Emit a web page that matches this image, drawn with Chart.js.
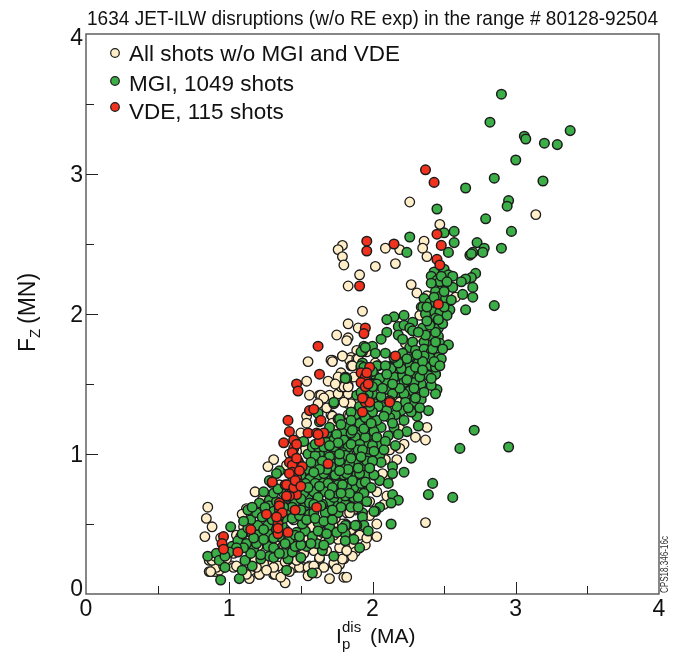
<!DOCTYPE html>
<html>
<head>
<meta charset="utf-8">
<title>JET-ILW disruptions</title>
<script src="https://cdn.jsdelivr.net/npm/chart.js@4/dist/chart.umd.min.js"></script>
<style>
  html, body { margin: 0; padding: 0; background: #fff; }
  canvas { display: block; }
</style>
</head>
<body>
<canvas id="chart" width="688" height="652"></canvas>
<script>
// Values: [Ip_dis (MA), Fz (MN)]
const allShots = [
  [2.26,2.80],[3.14,2.71],[2.47,2.64],[2.36,2.52],[2.35,2.47],[2.19,2.46],[2.38,2.41],[2.09,2.47],[1.79,2.49],[1.76,2.46],
  [1.79,2.41],[1.80,2.35],[2.02,2.34],[2.16,2.36],[1.91,2.28],[1.83,2.20],[2.27,2.21],[2.31,2.15],[2.38,2.13],[2.58,2.12],
  [2.34,2.05],[1.93,2.02],[2.33,1.99],[1.83,1.93],[1.90,1.90],[1.75,1.85],[1.83,1.83],[2.32,1.84],[1.89,1.74],[1.96,1.73],
  [1.79,1.70],[1.72,1.67],[1.85,1.69],[1.84,1.67],[1.89,1.68],[1.85,1.63],[2.02,1.65],[2.23,1.79],[1.71,1.67],[1.55,1.66],
  [1.79,1.70],[1.86,1.63],[1.54,1.52],[1.63,1.42],[1.70,1.42],[1.76,1.43],[1.83,1.43],[1.78,1.48],[1.83,1.49],[1.84,1.36],
  [1.71,1.28],[1.83,1.28],[1.54,1.27],[1.73,1.22],[1.75,1.18],[1.54,1.22],[1.53,1.03],[1.31,0.96],[1.27,0.91],[1.18,0.73],
  [1.90,1.68],[1.82,1.81],[1.91,1.32],[1.92,0.69],[1.90,1.38],[0.85,0.62],[0.84,0.54],[0.88,0.48],[0.83,0.41],[0.94,0.40],
  [0.86,0.24],[0.86,0.16],[0.90,0.16],[0.93,0.17],[0.91,0.19],[1.02,0.20],[1.14,0.11],[1.21,0.14],[1.31,0.14],[1.39,0.08],
  [1.46,0.19],[1.52,0.19],[1.56,0.20],[1.63,0.25],[1.66,0.19],[1.70,0.11],[1.80,0.12],[1.82,0.12],[1.80,0.25],[1.73,0.21],
  [1.77,0.21],[1.77,0.33],[1.87,0.35],[1.88,0.30],[1.75,0.44],[1.71,0.44],[1.81,0.50],[1.75,0.51],[1.82,0.58],[1.88,0.60],
  [1.98,0.66],[2.03,0.50],[1.12,0.60],[1.11,0.55],[1.10,0.48],[1.05,0.42],[1.06,0.35],[1.16,0.29],[1.24,0.19],[1.27,0.21],
  [1.34,0.20],[1.42,0.25],[1.49,0.27],[1.59,0.31],[1.54,0.39],[1.45,0.32],[1.35,0.30],[2.37,1.10],[2.37,0.51],[2.22,1.07],
  [2.19,1.04],[2.11,0.84],[1.89,0.61],[1.84,0.58],[1.81,0.50],[1.79,0.50],[1.74,0.54],[1.83,1.36],[1.85,1.36],[1.84,1.27],
  [1.72,1.27],[1.72,1.22],[1.73,1.17],[1.64,1.42],[1.80,1.48],[1.83,1.48],[1.86,1.63],[1.72,1.66],[2.19,1.37],[2.19,1.18],
  [1.12,0.61],[1.16,0.43],[1.18,0.24],[1.03,0.19],[1.21,0.14],[1.32,0.14],[1.31,0.19],[1.45,0.19],[1.49,0.19],[1.55,0.19],
  [1.63,0.26],[1.73,0.22],[1.79,0.25],[1.95,0.35],[1.38,0.35],[1.32,0.38],[1.45,0.53],[1.59,0.20],[1.24,0.22],[1.52,0.29],
  [1.55,0.39],[1.68,0.31],[1.76,0.39],[0.87,0.16],[0.88,0.24],[1.03,0.29],[1.15,0.17],[1.26,0.17],[1.39,0.23],[1.47,0.24],
  [1.05,0.20],[0.96,0.20],[1.08,0.41],[1.67,0.38],[1.73,0.42],[1.66,0.48],[1.49,0.38],[1.45,0.38],[1.62,0.42],[1.58,0.48],
  [1.39,0.46],[1.30,0.30],[1.20,0.34],[1.14,0.38],[1.70,0.60],[1.60,0.66],[1.40,0.68],[1.35,0.78],[1.87,1.55],[1.78,1.58],
  [1.56,1.42],[1.76,1.55],[1.69,1.52],[1.74,1.50],[1.66,1.40],[1.80,1.37],[1.92,1.43],[1.68,1.33],[1.62,1.36],[1.50,1.15],
  [1.47,1.02],[1.40,0.92],[1.30,0.79],[1.23,0.67],[1.42,1.00],[1.09,0.57],[0.98,0.25],[0.90,0.27],[1.12,0.14],[1.19,0.19],
  [1.36,0.12],[1.42,0.16],[1.55,0.13],[1.61,0.15],[1.75,0.18],[1.86,0.27],[1.82,0.31],[1.91,0.42],[1.96,0.40],[2.03,0.41],
  [1.85,0.46],[1.98,0.56],[2.08,0.64],[2.03,0.73],[2.10,0.70],[2.07,0.86],[2.09,0.96],[2.17,0.96],[2.12,1.03],[2.30,1.12],
  [2.38,1.19]
];
const mgiShots = [
  [2.90,3.57],[2.82,3.37],[3.06,3.27],[3.07,3.25],[3.38,3.31],[3.20,3.22],[3.29,3.21],[3.00,3.10],[2.85,2.97],[3.19,2.95],
  [2.65,2.90],[2.95,2.81],[2.94,2.77],[2.45,2.75],[2.79,2.68],[2.97,2.59],[2.57,2.59],[2.57,2.51],[2.50,2.58],[2.26,2.55],
  [2.73,2.51],[2.78,2.47],[2.90,2.47],[2.70,2.44],[2.53,2.44],[2.77,2.44],[2.68,2.42],[2.69,2.43],[2.24,2.44],[2.43,2.30],
  [2.41,2.27],[2.45,2.24],[2.50,2.32],[2.53,2.28],[2.56,2.27],[2.72,2.29],[2.69,2.26],[2.65,2.25],[2.62,2.23],[2.70,2.19],
  [2.63,2.14],[2.70,2.12],[2.65,2.03],[2.85,2.06],[2.56,2.19],[2.49,2.20],[2.44,2.16],[2.48,2.13],[2.51,2.11],[2.36,2.11],
  [2.40,2.08],[2.35,2.05],[2.52,2.05],[2.54,2.03],[2.42,2.02],[2.47,2.01],[2.37,2.00],[2.52,1.99],[2.44,1.97],[2.39,1.94],
  [2.22,1.99],[2.15,1.98],[2.10,1.96],[2.18,1.91],[2.22,1.92],[2.28,1.94],[2.26,1.90],[2.28,1.88],[2.35,1.90],[2.10,1.87],
  [2.18,1.85],[2.06,1.82],[2.21,1.82],[2.26,1.76],[2.46,1.90],[2.49,1.93],[2.46,1.84],[2.41,1.84],[2.47,1.79],[2.53,1.78],
  [2.41,1.78],[2.36,1.80],[2.28,1.80],[2.30,1.74],[2.36,1.75],[2.41,1.73],[2.46,1.69],[2.09,1.72],[2.00,1.77],[1.94,1.77],
  [1.93,1.73],[2.02,1.72],[2.04,1.63],[1.81,1.55],[2.17,1.65],[2.13,1.63],[2.21,1.72],[2.26,1.68],[2.31,1.65],[2.39,1.62],
  [2.44,1.57],[2.38,1.57],[2.30,1.56],[2.21,1.56],[2.16,1.55],[2.06,1.54],[2.00,1.57],[1.93,1.65],[2.71,1.17],[2.61,1.04],
  [2.95,1.05],[2.27,0.97],[2.42,0.79],[2.39,0.71],[2.56,0.69],[2.14,0.91],[2.14,0.86],[2.22,0.87],[2.01,0.85],[2.05,0.81],
  [2.11,0.79],[2.14,0.71],[2.18,0.67],[2.13,0.65],[2.05,0.62],[2.02,0.59],[2.13,0.50],[1.93,0.58],[1.93,0.55],[2.32,1.20],
  [2.24,1.16],[2.16,1.06],[2.39,1.31],[2.31,1.27],[2.45,1.46],[2.44,1.43],[2.41,1.49],[2.44,1.57],[2.34,1.39],[2.28,1.36],
  [2.27,1.31],[2.20,1.31],[2.16,1.28],[2.15,1.19],[2.11,1.13],[2.06,1.19],[2.12,1.26],[2.06,1.34],[2.03,1.34],[2.00,1.43],
  [2.04,1.49],[2.09,1.53],[2.22,1.49],[2.17,1.44],[2.26,1.45],[2.33,1.47],[2.23,1.41],[1.92,1.62],[2.03,1.63],[1.82,1.54],
  [1.73,1.36],[1.91,1.20],[2.05,1.07],[2.05,0.99],[1.96,1.20],[1.92,1.14],[1.97,1.13],[2.01,1.16],[2.13,1.62],[2.17,1.66],
  [2.22,1.66],[2.26,1.63],[2.31,1.63],[2.38,1.62],[2.44,1.62],[2.15,1.55],[2.21,1.56],[2.26,1.56],[2.31,1.56],[2.38,1.57],
  [2.09,1.52],[2.22,1.51],[2.34,1.50],[1.89,1.42],[1.97,1.43],[1.92,1.44],[2.01,1.57],[2.06,1.41],[2.22,1.43],[2.23,1.37],
  [2.01,1.36],[2.04,1.34],[2.10,1.31],[2.27,1.30],[2.03,1.24],[1.97,1.28],[1.83,1.19],[1.76,1.25],[1.96,1.07],[1.90,1.04],
  [2.00,1.06],[1.79,1.16],[1.73,1.11],[1.68,1.07],[1.79,1.06],[1.87,1.10],[1.97,1.01],[1.96,0.97],[1.89,0.97],[1.83,1.00],
  [1.74,1.03],[1.67,1.00],[2.06,0.94],[1.94,0.91],[1.86,0.91],[1.80,0.93],[1.74,0.89],[1.95,0.85],[1.88,0.87],[1.79,0.85],
  [1.70,0.85],[1.92,0.78],[1.84,0.80],[1.76,0.78],[1.70,0.79],[1.89,0.75],[1.82,0.75],[1.86,0.69],[1.76,0.68],[1.68,0.73],
  [1.81,0.64],[1.73,0.64],[1.67,0.60],[1.75,0.58],[1.94,0.49],[1.89,0.49],[1.82,0.49],[1.69,0.48],[1.01,0.48],[0.85,0.27],
  [0.91,0.29],[0.93,0.24],[0.97,0.19],[0.94,0.10],[1.07,0.11],[1.09,0.17],[1.16,0.20],[1.11,0.24],[1.22,0.25],[1.28,0.27],
  [1.40,0.17],[1.41,0.25],[1.38,0.29],[1.44,0.30],[1.50,0.26],[1.58,0.15],[1.65,0.31],[1.73,0.27],[1.70,0.39],[1.61,0.36],
  [1.54,0.34],[1.46,0.34],[1.27,0.34],[1.17,0.32],[1.15,0.29],[1.02,0.34],[1.06,0.38],[1.09,0.43],[1.12,0.36],[1.19,0.36],
  [1.21,0.43],[1.27,0.43],[1.35,0.41],[1.42,0.39],[1.47,0.44],[1.53,0.45],[1.58,0.41],[1.65,0.44],[1.70,0.48],[1.81,0.49],
  [1.81,0.43],[1.87,0.39],[1.91,0.33],[1.81,0.38],[1.97,0.45],[1.88,0.49],[2.01,0.59],[1.76,0.58],[1.69,0.54],[1.62,0.51],
  [1.56,0.57],[1.51,0.50],[1.37,0.49],[1.27,0.49],[1.20,0.49],[1.15,0.53],[1.19,0.58],[1.13,0.60],[1.21,0.65],[1.16,0.62],
  [1.28,0.67],[1.28,0.63],[1.24,0.73],[1.31,0.59],[1.40,0.60],[1.53,0.63],[1.59,0.58],[1.67,0.58],[1.70,0.66],[1.65,0.64],
  [1.55,0.69],[1.59,0.74],[1.65,0.76],[1.73,0.69],[1.81,0.70],[1.87,0.76],[1.92,0.79],[1.80,0.85],[1.73,0.85],[1.65,0.82],
  [1.52,0.72],[1.53,0.81],[1.56,0.86],[1.62,0.85],[1.89,0.85],[2.01,0.85],[1.69,0.79],[1.76,0.78],[1.82,0.76],[1.92,1.73],
  [1.95,1.76],[1.81,1.54],[1.92,1.63],[1.73,1.37],[1.63,1.23],[1.62,1.29],[1.77,1.25],[1.83,1.19],[1.79,1.15],[1.52,1.09],
  [1.91,1.22],[1.95,1.12],[1.88,1.12],[1.73,1.10],[1.67,1.09],[1.80,1.10],[1.73,1.05],[1.63,1.00],[1.55,1.00],[1.60,0.99],
  [1.91,1.07],[1.83,1.05],[1.90,1.03],[1.79,1.01],[1.70,0.98],[1.96,0.95],[1.88,0.94],[1.81,0.99],[1.74,0.93],[1.61,0.92],
  [1.91,0.86],[1.82,0.86],[1.74,0.85],[1.66,0.86],[1.56,0.82],[1.60,0.79],[1.53,0.79],[1.59,0.73],[1.67,0.73],[1.75,0.72],
  [1.87,0.69],[1.35,0.88],[1.33,0.86],[1.28,0.81],[1.54,0.89],[2.26,1.59],[2.20,1.61],[2.13,1.61],[2.32,1.65],[2.24,1.68],
  [2.18,1.65],[2.05,1.54],[2.00,1.59],[1.94,1.62],[2.39,1.56],[2.40,1.69],[2.48,1.68],[2.42,1.75],[2.30,1.62],[1.85,1.15],
  [1.68,1.15],[1.58,1.05],[1.48,0.95],[1.44,0.80],[1.38,0.72],[1.33,0.66],[1.46,0.66],[1.62,1.05],[1.77,0.95],[1.84,0.93],
  [1.99,1.50],[2.11,1.46],[2.14,1.43],[2.29,1.51],[2.36,1.44],[2.30,1.40],[2.19,1.47],[2.12,1.38],[2.17,1.34],[2.25,1.33],
  [2.33,1.33],[2.08,1.27],[2.14,1.22],[2.22,1.24],[2.00,1.30],[1.95,1.26],[1.88,1.28],[1.86,1.17],[1.94,1.18],[2.03,1.12],
  [2.09,1.09],[1.99,1.22],[2.18,1.14],[1.78,1.21],[1.70,1.19],[1.66,1.05],[1.75,1.14],[1.85,1.07],[1.93,1.03],[2.01,1.02],
  [2.08,1.03],[1.76,1.08],[1.70,1.06],[1.60,1.07],[1.57,0.94],[1.65,0.95],[1.71,0.91],[1.77,1.00],[1.85,0.97],[1.92,0.98],
  [2.00,0.95],[1.98,0.90],[1.90,0.90],[1.83,0.89],[1.77,0.88],[1.68,0.89],[1.63,0.89],[1.59,0.87],[1.50,0.85],[1.48,0.76],
  [1.55,0.76],[1.63,0.77],[1.72,0.76],[1.79,0.78],[1.86,0.81],[1.95,0.80],[1.99,0.76],[1.94,0.72],[1.90,0.69],[1.84,0.72],
  [1.78,0.72],[1.70,0.71],[1.62,0.69],[1.56,0.65],[1.50,0.68],[1.44,0.62],[1.38,0.62],[1.31,0.72],[1.34,0.75],[1.40,0.69],
  [1.25,0.62],[1.23,0.55],[1.30,0.53],[1.38,0.54],[1.44,0.54],[1.49,0.56],[1.54,0.53],[1.60,0.54],[1.66,0.52],[1.72,0.53],
  [1.78,0.62],[1.85,0.62],[1.90,0.62],[1.96,0.66],[1.72,0.60],[1.64,0.63],[1.59,0.64],[1.50,0.60],[1.10,0.33],[1.17,0.40],
  [1.24,0.39],[1.31,0.40],[1.31,0.33],[1.39,0.36],[1.46,0.42],[1.50,0.35],[1.57,0.36],[1.62,0.45],[1.68,0.43],[1.75,0.44],
  [1.79,0.47],[1.13,0.47],[1.24,0.46],[1.33,0.46],[1.22,0.28],[1.31,0.26],[1.35,0.29],[1.49,0.41],[1.66,0.35],[1.10,0.52],
  [1.05,0.33],[1.00,0.30],[0.97,0.27],[2.33,1.55],[2.36,1.70],[2.35,1.66],[2.43,1.66],[2.31,1.71],[2.37,1.85],[2.44,1.87],
  [2.40,1.92],[2.32,1.87],[2.15,1.69],[2.09,1.63],[2.10,1.57],[2.24,1.53],[2.35,1.60],[2.47,1.63],[2.29,1.47],[2.41,1.54],
  [2.03,1.50],[1.96,1.56],[2.00,1.48],[1.94,1.40],[1.98,1.34],[1.91,1.34],[1.85,1.30],[1.85,1.24],[2.07,1.47],[2.14,1.50],
  [2.49,1.75],[2.44,1.80],[2.38,1.95],[2.46,1.96],[2.50,2.05],[2.44,2.08],[2.47,2.23],[2.41,2.22],[2.38,2.05],[2.55,2.10],
  [2.50,2.16],[2.43,2.12],[2.48,2.27],[2.52,2.23]
];
const vdeShots = [
  [2.37,3.03],[2.43,2.94],[2.45,2.57],[2.48,2.49],[2.45,2.39],[2.47,2.35],[2.46,2.07],[1.96,2.52],[1.96,2.45],[2.15,2.50],
  [1.91,2.20],[1.95,1.90],[1.94,1.86],[2.16,1.70],[1.98,1.62],[1.92,1.58],[1.95,1.55],[1.92,1.51],[1.95,1.48],[1.97,1.50],
  [1.95,1.37],[1.98,1.37],[2.12,1.37],[1.93,1.30],[1.62,1.77],[1.63,1.57],[1.47,1.50],[1.48,1.45],[1.41,1.24],[1.56,1.31],
  [1.59,1.32],[1.64,1.24],[1.42,1.16],[1.38,1.08],[1.55,1.15],[1.61,1.15],[1.66,1.15],[1.63,1.09],[1.45,1.10],[1.45,1.04],
  [1.45,0.99],[1.42,0.94],[1.49,0.93],[1.44,0.92],[1.44,0.87],[1.51,0.91],[1.30,0.80],[1.47,0.83],[1.48,0.79],[1.39,0.78],
  [1.42,0.76],[1.44,0.73],[1.47,0.71],[1.42,0.70],[1.69,0.93],[1.40,0.78],[1.35,0.65],[1.35,0.60],[1.34,0.53],[1.34,0.50],
  [1.34,0.43],[1.41,0.44],[1.46,0.60],[1.61,0.62],[1.26,0.57],[1.15,0.46],[0.96,0.41],[0.95,0.36],[0.96,0.32],[1.06,0.30],
  [1.44,1.01],[1.47,0.97],[1.42,0.86],[1.49,0.88],[1.45,0.76],[1.40,0.70],[1.47,1.07],[1.35,0.63],[1.35,0.56],[1.34,0.47],
  [1.37,0.58],[1.93,1.40],[1.96,1.58],[1.62,1.14],[1.46,0.81],[1.50,0.77],[1.33,0.55]
];
const xTickLabels = [0, 1, 2, 3, 4];
const yTickLabels = [0, 1, 2, 3, 4];
const majorTicks = [1, 2, 3];
const minorTicks = [0.5, 1.5, 2.5, 3.5];
const legendLabels = ['All shots w/o MGI and VDE', 'MGI, 1049 shots', 'VDE, 115 shots'];
const chartTitle = '1634 JET-ILW disruptions (w/o RE exp) in the range # 80128-92504';

const TAN = '#ffeec8', GREEN = '#3cae48', RED = '#f0321e', EDGE = '#1c1c1c';
const FONT = '"Liberation Sans", Arial, sans-serif';

function toXY(list) {
  return list.map(p => ({ x: p[0], y: p[1] }));
}

// Frame, inward ticks, end labels and the mixed sub/superscript axis titles
const decorations = {
  id: 'decorations',
  afterDatasetsDraw(chart) {
    const { ctx, chartArea: a, scales: { x, y } } = chart;
    ctx.save();
    ctx.strokeStyle = '#555';
    ctx.lineWidth = 1.4;
    ctx.strokeRect(a.left, a.top, a.right - a.left, a.bottom - a.top);

    ctx.strokeStyle = '#222';
    ctx.lineWidth = 1;
    const tick = (v, len) => {
      const px = Math.round(x.getPixelForValue(v)) + 0.5;
      const py = Math.round(y.getPixelForValue(v)) + 0.5;
      ctx.beginPath();
      ctx.moveTo(px, a.bottom); ctx.lineTo(px, a.bottom - len);
      ctx.moveTo(a.left, py); ctx.lineTo(a.left + len, py);
      ctx.stroke();
    };
    majorTicks.forEach(v => tick(v, 12));
    minorTicks.forEach(v => tick(v, 8));

    ctx.fillStyle = '#111';
    ctx.font = '23px ' + FONT;
    ctx.textAlign = 'center';
    ctx.textBaseline = 'alphabetic';
    xTickLabels.forEach(v => ctx.fillText(String(v), x.getPixelForValue(v), 616));
    ctx.textAlign = 'right';
    yTickLabels.forEach(v => {
      const shift = v === 0 ? -6 : v === 4 ? 3 : 0;
      ctx.fillText(String(v), a.left - 3, y.getPixelForValue(v) + 8 + shift);
    });

    // title, squeezed to the width of the frame
    ctx.textAlign = 'left';
    ctx.font = '21px ' + FONT;
    ctx.fillText(chartTitle, 87, 25, 571);

    // x axis title
    ctx.font = '21px ' + FONT;
    ctx.fillText('I', 336, 643);
    ctx.font = '15px ' + FONT;
    ctx.fillText('p', 342, 649);
    ctx.fillText('dis', 342, 632);
    ctx.font = '21px ' + FONT;
    ctx.fillText('(MA)', 370, 643);

    // y axis title
    ctx.save();
    ctx.translate(35, 352);
    ctx.rotate(-Math.PI / 2);
    ctx.font = '23px ' + FONT;
    ctx.fillText('F', 0, 0);
    ctx.font = '15px ' + FONT;
    ctx.fillText('Z', 14, 5);
    ctx.font = '23px ' + FONT;
    ctx.fillText('(MN)', 28, 0);
    ctx.restore();

    // legend
    const rows = [[TAN, 53, 61], [GREEN, 81, 91], [RED, 107, 119]];
    rows.forEach((r, i) => {
      ctx.beginPath();
      ctx.arc(115, r[1], 4.3, 0, Math.PI * 2);
      ctx.fillStyle = r[0];
      ctx.fill();
      ctx.strokeStyle = EDGE;
      ctx.lineWidth = 1.2;
      ctx.stroke();
      ctx.fillStyle = '#111';
      ctx.font = '22.5px ' + FONT;
      ctx.fillText(legendLabels[i], 129, r[2], 271);
    });

    // figure code by the right edge
    ctx.save();
    ctx.translate(668, 593);
    ctx.rotate(-Math.PI / 2);
    ctx.fillStyle = '#333';
    ctx.font = '10px ' + FONT;
    ctx.fillText('CPS18.346-16c', 0, 0, 57);
    ctx.restore();
    ctx.restore();
  }
};

function dataset(list, fill, edgeWidth) {
  return {
    data: toXY(list),
    pointRadius: 4.8,
    pointHoverRadius: 4.8,
    backgroundColor: fill,
    borderColor: EDGE,
    borderWidth: edgeWidth
  };
}

new Chart(document.getElementById('chart'), {
  type: 'scatter',
  data: {
    // first dataset is painted last
    datasets: [dataset(vdeShots, RED, 1.5), dataset(mgiShots, GREEN, 1.5), dataset(allShots, TAN, 1.3)]
  },
  options: {
    responsive: false,
    animation: false,
    layout: { padding: { top: 34, right: 29 } },
    plugins: { legend: { display: false }, title: { display: false }, tooltip: { enabled: false } },
    scales: {
      x: {
        type: 'linear', min: 0, max: 4,
        grid: { display: false }, border: { display: false },
        ticks: { display: false, stepSize: 1 },
        afterFit(scale) { scale.height = 58; }
      },
      y: {
        type: 'linear', min: 0, max: 4,
        grid: { display: false }, border: { display: false },
        ticks: { display: false, stepSize: 1 },
        afterFit(scale) { scale.width = 86; }
      }
    }
  },
  plugins: [decorations]
});
</script>
</body>
</html>
